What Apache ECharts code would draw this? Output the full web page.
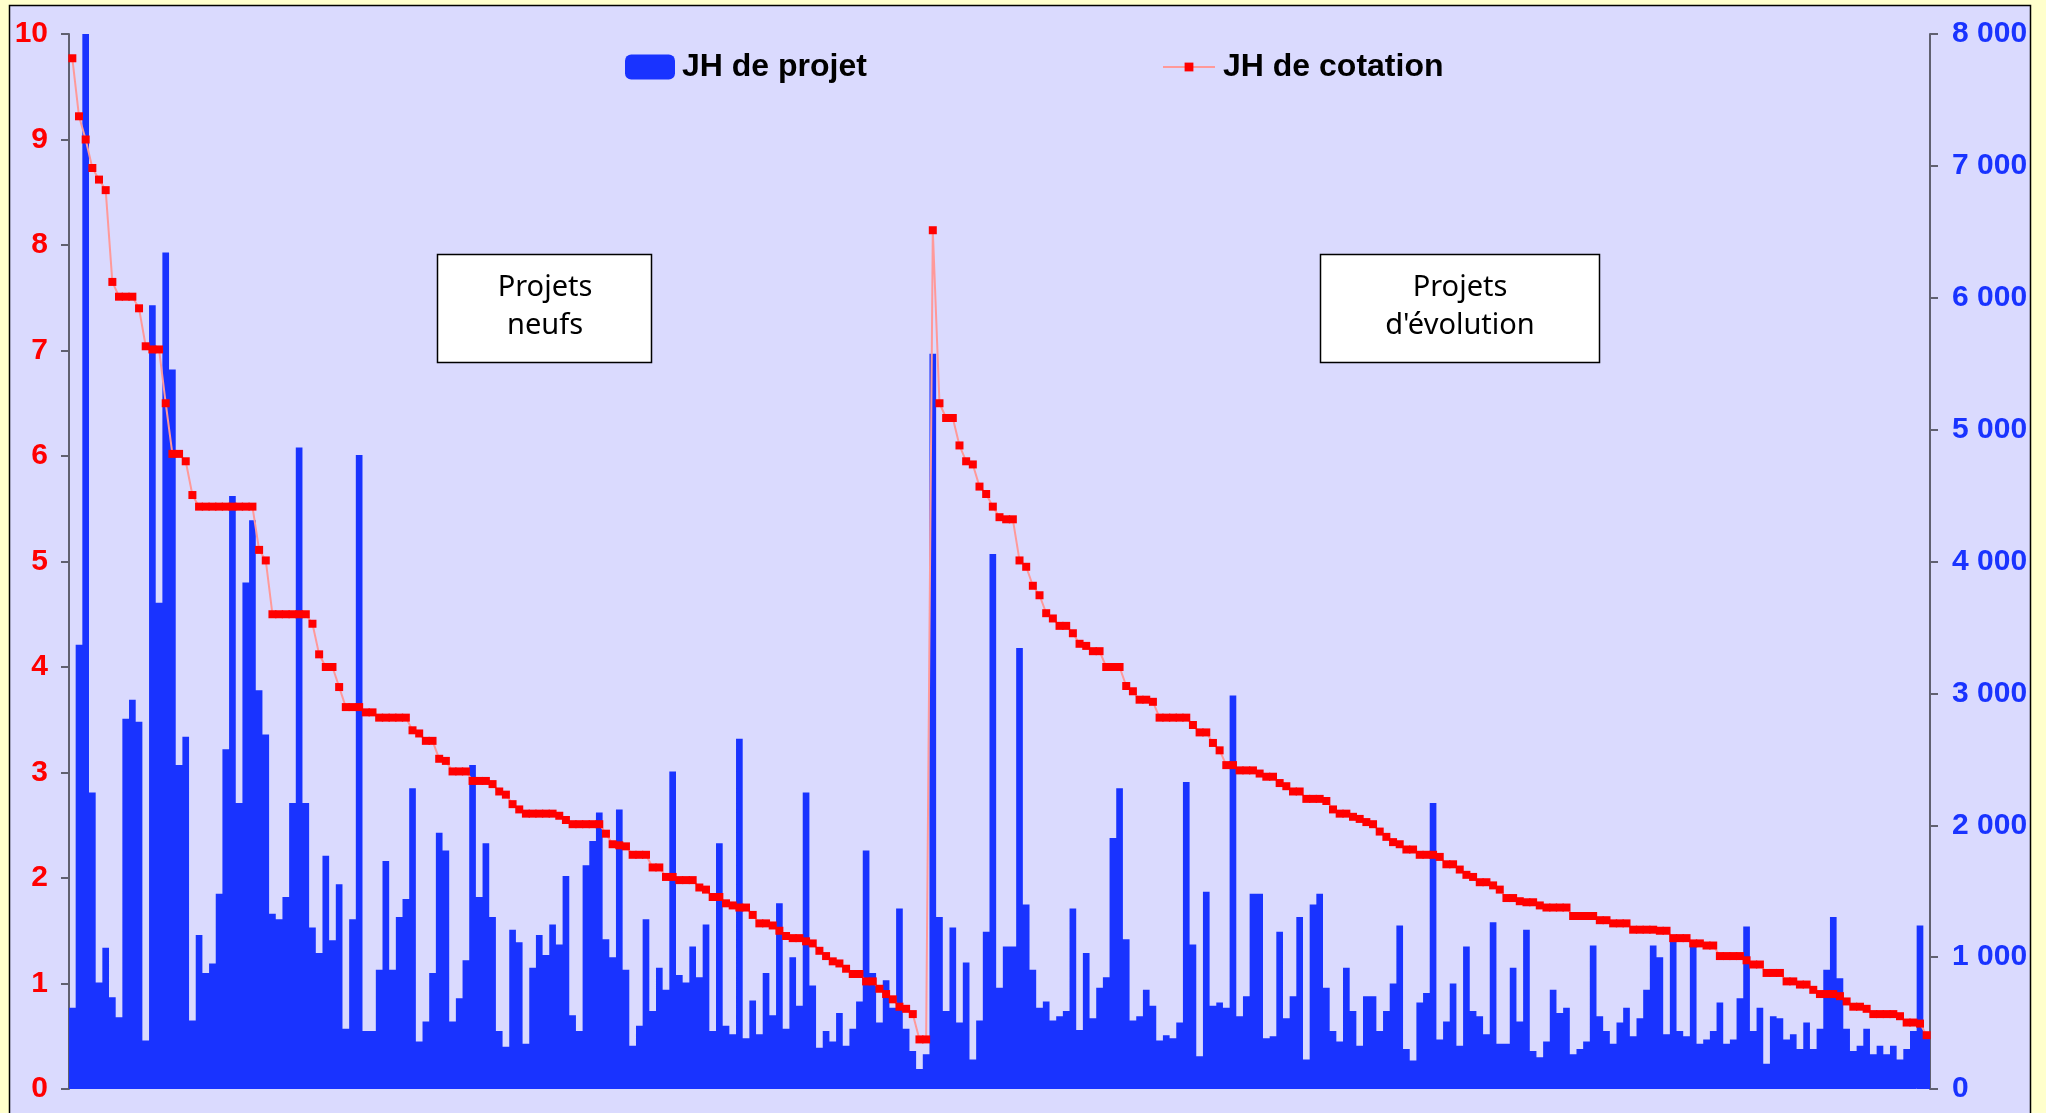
<!DOCTYPE html>
<html>
<head>
<meta charset="utf-8">
<script src="https://cdn.jsdelivr.net/npm/echarts@6/dist/echarts.min.js"></script>
<style>
html,body{margin:0;padding:0;background:#FFFFCC;}
#chart{width:2046px;height:1113px;}
</style>
</head>
<body>
<div id="chart"></div>
<script>
// JH de projet (bars, right axis) — Projets neufs
var projetNeufs = [616,3368,8040,2248,808,1072,696,544,2808,2952,
2784,368,5944,3688,6344,5456,2456,2672,520,1168,
880,952,1480,2576,4496,2168,3840,4312,3024,2688,
1328,1288,1456,2168,4864,2168,1224,1032,1768,1128,
1552,456,1288,4808,440,440,904,1728,904,1304,
1440,2280,360,512,880,1944,1808,512,688,976,
2456,1456,1864,1304,440,320,1208,1112,344,920,
1168,1016,1248,1096,1616,560,440,1696,1880,2096,
1136,1000,2120,904,328,480,1288,592,920,752,
2408,864,808,1080,848,1248,440,1864,480,416,
2656,384,672,416,880,560,1408,456,1000,632,
2248,784,312,440,360,576,328,456,664,1808,
880,504,824,616,1368,456,288,152,264];
// JH de projet — Projets d'évolution
var projetEvolution = [5576,1304,592,1224,504,960,224,520,1192,4056,
768,1080,1080,3344,1400,904,616,664,520,552,
592,1368,448,1032,536,768,848,1904,2280,1136,
520,552,752,632,368,408,384,504,2328,1096,
248,1496,632,656,616,2984,552,704,1480,1480,
384,400,1192,536,704,1304,224,1400,1480,768,
440,360,920,592,328,704,704,440,592,800,
1240,304,216,656,728,2168,376,512,800,328,
1080,592,552,416,1264,344,344,920,512,1208,
288,240,360,752,576,616,264,304,360,1088,
552,440,344,504,616,400,536,752,1088,1000,
416,1128,440,400,1088,344,376,440,656,344,
376,688,1232,440,616,192,552,536,376,416,
304,504,304,456,904,1304,840,456,288,328,
456,264,328,264,328,224,304,440,1240,416];
// JH de cotation (line, left axis) — Projets neufs
var cotationNeufs = [9.77,9.22,9.00,8.73,8.62,8.52,7.65,7.51,7.51,7.51,
7.40,7.04,7.01,7.01,6.50,6.02,6.02,5.95,5.63,5.52,
5.52,5.52,5.52,5.52,5.52,5.52,5.52,5.52,5.11,5.01,
4.50,4.50,4.50,4.50,4.50,4.50,4.41,4.12,4.00,4.00,
3.81,3.62,3.62,3.62,3.57,3.57,3.52,3.52,3.52,3.52,
3.52,3.40,3.37,3.30,3.30,3.13,3.11,3.01,3.01,3.01,
2.92,2.92,2.92,2.89,2.82,2.79,2.70,2.65,2.61,2.61,
2.61,2.61,2.61,2.59,2.55,2.51,2.51,2.51,2.51,2.51,
2.42,2.32,2.31,2.30,2.22,2.22,2.22,2.10,2.10,2.01,
2.01,1.98,1.98,1.98,1.91,1.89,1.82,1.82,1.76,1.74,
1.72,1.72,1.65,1.57,1.57,1.55,1.50,1.45,1.43,1.43,
1.40,1.38,1.31,1.26,1.21,1.19,1.14,1.09,1.09,1.02,
1.02,0.95,0.90,0.85,0.78,0.76,0.71,0.47,0.47];
// JH de cotation — Projets d'évolution
var cotationEvolution = [8.14,6.50,6.36,6.36,6.10,5.95,5.92,5.71,5.64,5.52,
5.42,5.40,5.40,5.01,4.95,4.77,4.68,4.51,4.46,4.39,
4.39,4.32,4.22,4.20,4.15,4.15,4.00,4.00,4.00,3.82,
3.77,3.69,3.69,3.67,3.52,3.52,3.52,3.52,3.52,3.45,
3.38,3.38,3.28,3.21,3.07,3.07,3.02,3.02,3.02,2.99,
2.96,2.96,2.90,2.87,2.82,2.82,2.75,2.75,2.75,2.73,
2.65,2.61,2.61,2.58,2.56,2.53,2.51,2.44,2.39,2.34,
2.32,2.27,2.27,2.22,2.22,2.22,2.20,2.13,2.13,2.08,
2.03,2.01,1.96,1.96,1.93,1.89,1.81,1.81,1.78,1.77,
1.77,1.74,1.72,1.72,1.72,1.72,1.64,1.64,1.64,1.64,
1.60,1.60,1.57,1.57,1.57,1.51,1.51,1.51,1.51,1.50,
1.50,1.43,1.43,1.43,1.38,1.38,1.36,1.36,1.26,1.26,
1.26,1.26,1.22,1.18,1.18,1.10,1.10,1.10,1.02,1.02,
0.99,0.99,0.94,0.90,0.90,0.90,0.88,0.83,0.78,0.78,
0.76,0.71,0.71,0.71,0.71,0.69,0.63,0.63,0.62,0.51];
var leftTicks = [0,1,2,3,4,5,6,7,8,9,10];
var rightTicks = ['0','1 000','2 000','3 000','4 000','5 000','6 000','7 000','8 000'];
var seriesNames = ['JH de projet','JH de cotation'];
var groupLabels = ['Projets\nneufs', "Projets\nd'évolution"];

var barData = projetNeufs.concat(projetEvolution);
var lineData = cotationNeufs.concat(cotationEvolution);
var categories = barData.map(function(_, i){ return 'P' + (i + 1); });

var BLUE = '#1933FF', RED = '#FF0000', AXIS = '#606070';
var chart = echarts.init(document.getElementById('chart'), null, {renderer:'canvas'});
chart.setOption({
  animation: false,
  backgroundColor: '#FFFFCC',
  grid: {left: 69, right: 116, top: 34, bottom: 24, containLabel: false},
  legend: [
    {data: [seriesNames[0]], left: 625, top: 51, itemWidth: 50, itemHeight: 25, padding: 0,
     textStyle: {fontFamily: 'Liberation Sans', fontWeight: 'bold', fontSize: 32, color: '#000', padding: [0,0,0,2]}},
    {data: [seriesNames[1]], left: 1162, top: 51, itemWidth: 52, itemHeight: 11, padding: 0,
     textStyle: {fontFamily: 'Liberation Sans', fontWeight: 'bold', fontSize: 32, color: '#000', padding: [0,0,0,3]}}
  ],
  xAxis: {type: 'category', data: categories, boundaryGap: true,
    axisLine: {show: false}, axisTick: {show: false}, axisLabel: {show: false}, splitLine: {show: false}},
  yAxis: [
    {type: 'value', position: 'left', min: leftTicks[0], max: leftTicks[leftTicks.length-1], interval: 1,
     axisLine: {show: true, lineStyle: {color: AXIS, width: 2}},
     axisTick: {show: true, length: 8, lineStyle: {color: AXIS, width: 2}},
     axisLabel: {color: RED, fontFamily: 'Liberation Sans', fontWeight: 'bold', fontSize: 30, margin: 21},
     splitLine: {show: false}},
    {type: 'value', position: 'right', min: 0, max: 8000, interval: 1000,
     axisLine: {show: true, lineStyle: {color: AXIS, width: 2}},
     axisTick: {show: true, length: 8, lineStyle: {color: AXIS, width: 2}},
     axisLabel: {color: BLUE, fontFamily: 'Liberation Sans', fontWeight: 'bold', fontSize: 30, margin: 22,
       formatter: function(v){ return rightTicks[Math.round(v/1000)]; }},
     splitLine: {show: false}}
  ],
  graphic: [
    {type: 'rect', z: -10, silent: true, shape: {x: 9.5, y: 5.5, width: 2021, height: 1130},
     style: {fill: '#DADAFE', stroke: '#000', lineWidth: 1.5}},
    {type: 'group', z: 100, children: [
      {type: 'rect', shape: {x: 437.5, y: 254.5, width: 214, height: 108},
       style: {fill: '#FFFFFF', stroke: '#000', lineWidth: 1.5}},
      {type: 'text', x: 545, y: 307, style: {text: groupLabels[0], fill: '#000',
        font: '29px "Noto Sans"', align: 'center', verticalAlign: 'middle', lineHeight: 38}}
    ]},
    {type: 'group', z: 100, children: [
      {type: 'rect', shape: {x: 1320.5, y: 254.5, width: 279, height: 108},
       style: {fill: '#FFFFFF', stroke: '#000', lineWidth: 1.5}},
      {type: 'text', x: 1460, y: 307, style: {text: groupLabels[1], fill: '#000',
        font: '29px "Noto Sans"', align: 'center', verticalAlign: 'middle', lineHeight: 38}}
    ]}
  ],
  series: [
    {name: seriesNames[0], type: 'bar', yAxisIndex: 1, data: barData,
     barCategoryGap: '0%', barGap: '0%', large: true, largeThreshold: 50,
     itemStyle: {color: BLUE}, z: 2},
    {name: seriesNames[1], type: 'line', yAxisIndex: 0, data: lineData,
     symbol: 'rect', symbolSize: 8, showAllSymbol: true,
     itemStyle: {color: RED}, lineStyle: {color: '#FF9999', width: 2}, z: 5}
  ]
});
</script>
</body>
</html>
